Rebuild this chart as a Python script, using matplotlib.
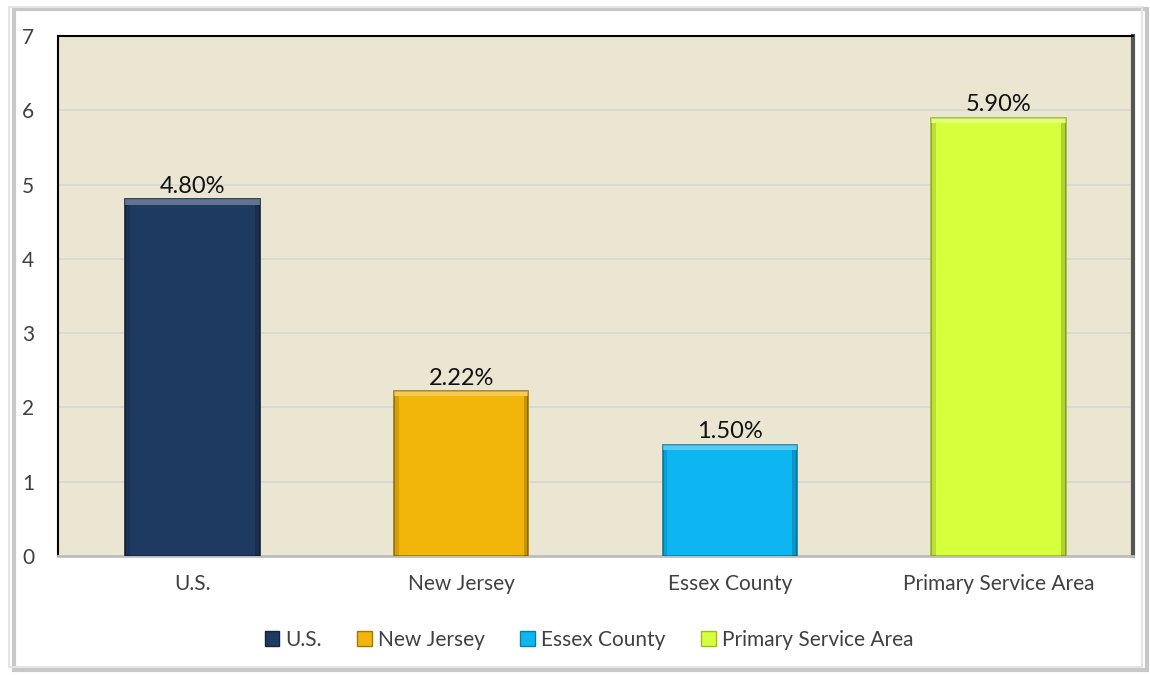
import matplotlib.pyplot as plt
from matplotlib.patches import Rectangle, Patch

categories = ["U.S.", "New Jersey", "Essex County", "Primary Service Area"]
values = [4.80, 2.22, 1.50, 5.90]
labels = ["4.80%", "2.22%", "1.50%", "5.90%"]
colors = ["#1E3A61", "#F2B50A", "#0DB6F0", "#D6FF3C"]
edge_colors = ["#12243d", "#a07805", "#0780a8", "#9bbb20"]

plt.rcParams['font.family'] = ['Lato', 'DejaVu Sans']

fig = plt.figure(figsize=(11.5, 6.75), dpi=100)
fig.patch.set_facecolor("white")

# outer chart frame with a soft shadow
fig.patches.append(Rectangle((0.012, 0.008), 0.985, 0.978, transform=fig.transFigure,
                             facecolor="none", edgecolor="#c8c8c8", linewidth=3, zorder=0))
fig.patches.append(Rectangle((0.008, 0.012), 0.985, 0.978, transform=fig.transFigure,
                             facecolor="none", edgecolor="#e4e4e4", linewidth=1.5, zorder=0))

ax = fig.add_axes([58 / 1150, 1 - 556 / 675, 1075 / 1150, 520 / 675])
ax.set_facecolor("#EBE6D2")

x = range(len(categories))
bars = ax.bar(x, values, width=0.5, color=colors, edgecolor=edge_colors,
              linewidth=1.2, zorder=3)

# bevel look: light strip on top, darker strips down the sides
for b in bars:
    bx, bw, bh = b.get_x(), b.get_width(), b.get_height()
    ax.add_patch(Rectangle((bx, bh - 0.07), bw, 0.07,
                           facecolor="white", alpha=0.3, edgecolor="none", zorder=4))
    ax.add_patch(Rectangle((bx, 0), bw * 0.035, bh - 0.07,
                           facecolor="black", alpha=0.12, edgecolor="none", zorder=4))
    ax.add_patch(Rectangle((bx + bw * 0.965, 0), bw * 0.035, bh - 0.07,
                           facecolor="black", alpha=0.18, edgecolor="none", zorder=4))

for b, lab in zip(bars, labels):
    ax.text(b.get_x() + b.get_width() / 2, b.get_height() + 0.03, lab,
            ha="center", va="bottom", fontsize=17, color="#111111", zorder=5)

ax.set_xlim(-0.5, len(categories) - 0.5)
ax.set_ylim(0, 7)
ax.set_yticks(range(0, 8))
ax.set_xticks(list(x))
ax.set_xticklabels(categories)
ax.grid(axis="y", color="#d6d6d6", linewidth=1.2, zorder=1)
ax.tick_params(axis="both", length=0, labelsize=15, colors="#404040")
ax.tick_params(axis="x", pad=13)
ax.tick_params(axis="y", pad=17)

for side in ["left", "top"]:
    ax.spines[side].set_color("black")
    ax.spines[side].set_linewidth(1.5)
ax.spines["right"].set_color("#555555")
ax.spines["right"].set_linewidth(3)
ax.spines["bottom"].set_color("#bdbdbd")
ax.spines["bottom"].set_linewidth(2)

handles = [Patch(facecolor=c, edgecolor=e, label=n)
           for c, e, n in zip(colors, edge_colors, categories)]
fig.legend(handles=handles, loc="center", bbox_to_anchor=(589 / 1150, 1 - 640 / 675),
           ncol=4, frameon=False, fontsize=15, handlelength=0.7, handleheight=0.7,
           handletextpad=0.3, columnspacing=1.7, labelcolor="#404040")

fig.savefig("out.png", dpi=100)
